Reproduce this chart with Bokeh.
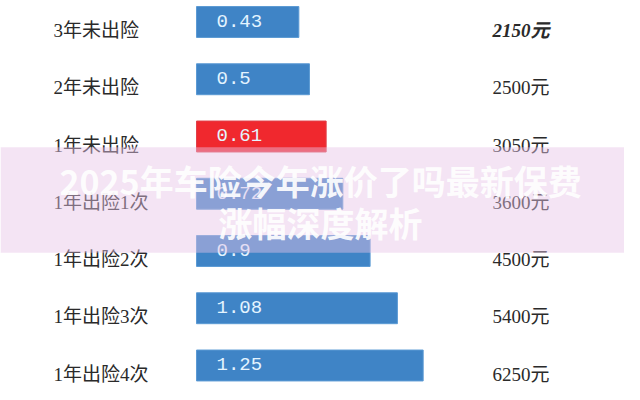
from bokeh.plotting import figure
from bokeh.models import ColumnDataSource, Range1d, BoxAnnotation, Label
from bokeh.core.properties import value
from bokeh.embed import file_html
from bokeh.resources import INLINE

# ---- data ----
categories = ["3年未出险", "2年未出险", "1年未出险", "1年出险1次", "1年出险2次", "1年出险3次", "1年出险4次"]
coefficients = [0.43, 0.5, 0.61, 0.72, 0.9, 1.08, 1.25]
premiums = [2150, 2500, 3050, 3600, 4500, 5400, 6250]
highlight = "1年未出险"
watermark_lines = ["2025年车险今年涨价了吗最新保费", "涨幅深度解析"]

# ---- layout constants ----
BASE = -0.245          # left edge of bars (axis start used by the original graphic)
LABEL_X = -1.188
PRICE_X = 1.708
W, H = 624, 384

rows = list(range(len(categories)))
colors = ["#f0282e" if c == highlight else "#3f84c6" for c in categories]
edge = ["#e0404a" if c == highlight else "#5b9ad4" for c in categories]
styles = ["bold italic"] + ["normal"] * (len(categories) - 1)

src = ColumnDataSource(dict(
    y=rows,
    ylab=[r + 0.15 for r in rows],
    cat=categories,
    coef=coefficients,
    coef_txt=["%g" % v for v in coefficients],
    price_txt=["%d元" % v for v in premiums],
    color=colors,
    edge=edge,
    pstyle=styles,
))

p = figure(width=W, height=H, output_backend="svg", toolbar_location=None,
           x_range=Range1d(-1.538, 2.578), y_range=Range1d(6.332, -0.3755),
           x_axis_location=None, y_axis_location=None, min_border=0,
           background_fill_color="white", border_fill_color="white")
p.outline_line_color = None
p.grid.visible = False

p.hbar(y="y", left=BASE, right="coef", height=0.54, source=src,
       fill_color="color", line_color="edge", line_width=1)

p.text(x=BASE, y="y", text="coef_txt", source=src, x_offset=20, y_offset=-1,
       text_color="#e4f4ff", text_font=value("Liberation Mono"),
       text_font_size="19px", text_baseline="middle", text_align="left")

p.text(x=LABEL_X, y="ylab", text="cat", source=src,
       text_color="#2a2a2a", text_font=value("Liberation Serif, Noto Sans CJK SC"),
       text_font_size="19px", text_baseline="middle", text_align="left")

p.text(x=PRICE_X, y="ylab", text="price_txt", source=src,
       text_color="#2a2a2a", text_font=value("Liberation Serif, Noto Sans CJK SC"),
       text_font_style="pstyle",
       text_font_size="19px", text_baseline="middle", text_align="left")

# watermark overlay band
band = BoxAnnotation(top=2.19, bottom=4.03, fill_color="#e6c4e6", fill_alpha=0.45,
                     line_color=None, level="overlay")
p.add_layout(band)
for txt, yy in zip(watermark_lines, [2.768, 3.502]):
    p.add_layout(Label(x=0.573, y=yy, text=txt, text_align="center", text_baseline="middle",
                       text_font="Noto Sans CJK SC", text_font_style="bold",
                       text_font_size="34px", text_color="white", text_alpha=0.92,
                       level="overlay"))

open("out.html", "w").write(file_html(p, INLINE))
